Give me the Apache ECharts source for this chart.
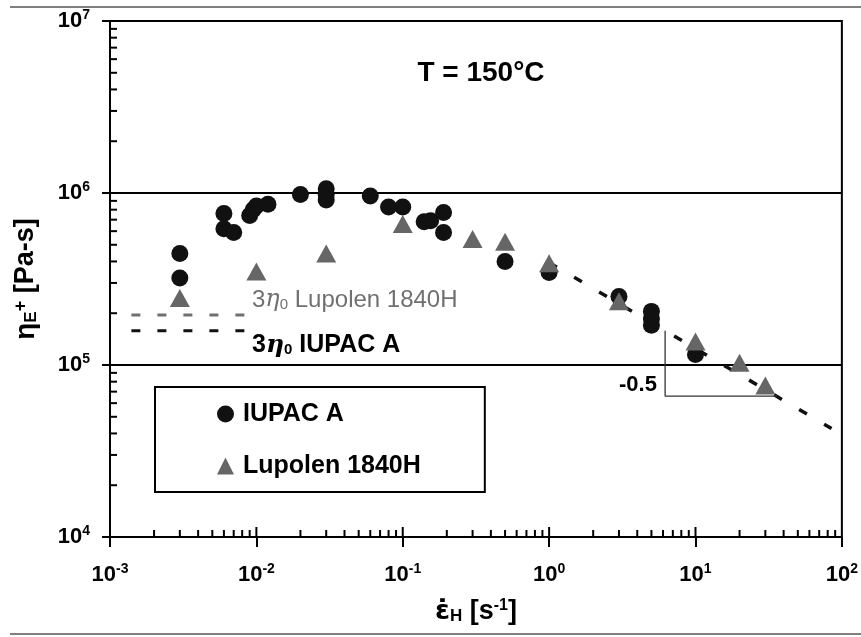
<!DOCTYPE html>
<html>
<head>
<meta charset="utf-8">
<script src="https://cdn.jsdelivr.net/npm/echarts@6/dist/echarts.min.js"></script>
<style>
  html, body { margin: 0; padding: 0; background: #fff; }
  #chart { width: 861px; height: 637px; }
</style>
</head>
<body>
<div id="chart"></div>
<script>
var iupacX = [0.003, 0.003, 0.006, 0.006, 0.007, 0.009, 0.0095, 0.01, 0.012, 0.02, 0.03, 0.03, 0.03, 0.06, 0.08, 0.1, 0.14, 0.155, 0.19, 0.19, 0.5, 1, 3, 5, 5, 5, 10];
var iupacY = [4.45e5, 3.2e5, 7.6e5, 6.2e5, 5.9e5, 7.4e5, 8.0e5, 8.4e5, 8.6e5, 9.8e5, 1.06e6, 0.98e6, 0.91e6, 9.6e5, 8.3e5, 8.3e5, 6.8e5, 6.9e5, 7.7e5, 5.9e5, 4.0e5, 3.45e5, 2.5e5, 2.05e5, 1.85e5, 1.7e5, 1.15e5];
var lupoX = [0.003, 0.01, 0.03, 0.1, 0.3, 0.5, 1, 3, 10, 20, 30];
var lupoY = [2.45e5, 3.5e5, 4.45e5, 6.6e5, 5.4e5, 5.2e5, 3.9e5, 2.35e5, 1.37e5, 1.03e5, 7.6e4];

// power law with slope -0.5 and its slope triangle
var fitX = [1, 85];
var fitY = [3.94e5, 4.27e4];
var slopeX = [6.2, 6.2, 36];
var slopeY = [1.58e5, 6.6e4, 6.6e4];

// 3*eta0 levels
var eta0X = [0.0014, 0.0087];
var eta0Lupo = 1.95e5;
var eta0Iupac = 1.58e5;

var xDecades = [-3, -2, -1, 0, 1];
var yDecades = [4, 5, 6];
var minorMult = [2, 3, 4, 5, 6, 7, 8, 9];

var FONT = 'Liberation Sans, Arial, sans-serif';

var pairs = function(xs, ys) {
  return xs.map(function(x, i) { return [x, ys[i]]; });
};

// inside ticks built from the log positions
var xMinor = [], yMinor = [], xMajorIn = [], yMajorIn = [];
xDecades.forEach(function(d) {
  minorMult.forEach(function(m) { xMinor.push([m * Math.pow(10, d), 1e4]); });
  if (d > -3) xMajorIn.push([Math.pow(10, d), 1e4]);
});
yDecades.forEach(function(d) {
  minorMult.forEach(function(m) { yMinor.push([1e-3, m * Math.pow(10, d)]); });
  if (d > 4) yMajorIn.push([1e-3, Math.pow(10, d)]);
});

var powLabel = function(v) {
  var e = Math.round(Math.log(v) / Math.LN10);
  return '{b|10}{s|' + e + '}';
};
var labelRich = {
  b: { fontSize: 22, fontWeight: 'bold', fontFamily: FONT, color: '#000', lineHeight: 26 },
  s: { fontSize: 14, fontWeight: 'bold', fontFamily: FONT, color: '#000', verticalAlign: 'top', lineHeight: 14 }
};

var tickSeries = function(data, size, offset) {
  return {
    type: 'scatter', data: data, symbol: 'rect', symbolSize: size, symbolOffset: offset,
    itemStyle: { color: '#000', opacity: 1 }, silent: true, z: 5, tooltip: { show: false }
  };
};

var chart = echarts.init(document.getElementById('chart'));

var option = {
  backgroundColor: '#fff',
  animation: false,
  grid: {
    left: 110, right: 14, top: 21, bottom: 100,
    show: true, borderColor: '#000', borderWidth: 2
  },
  legend: {
    orient: 'vertical', left: 155, top: 387,
    padding: [14, 64, 13, 62], itemGap: 26,
    itemWidth: 17, itemHeight: 17,
    borderColor: '#000', borderWidth: 2,
    textStyle: { fontSize: 25, lineHeight: 26, fontWeight: 'bold', color: '#000', fontFamily: FONT, padding: [0, 0, 0, 4] },
    data: [{ name: 'IUPAC A', icon: 'circle' }, { name: 'Lupolen 1840H', icon: 'triangle' }]
  },
  xAxis: {
    type: 'log', logBase: 10, min: 1e-3, max: 1e2,
    axisLine: { lineStyle: { color: '#000', width: 2 } },
    axisTick: { length: 10, lineStyle: { color: '#000', width: 2 } },
    axisLabel: { margin: 25, formatter: powLabel, rich: labelRich },
    splitLine: { show: false },
    name: '{e|ε̇}{sub|H}{t| [s}{sup|-1}{t|]}',
    nameLocation: 'middle', nameGap: 61,
    nameTextStyle: {
      rich: {
        e: { fontSize: 27, fontWeight: 'bold', fontFamily: 'DejaVu Sans', color: '#000' },
        t: { fontSize: 27, fontWeight: 'bold', fontFamily: FONT, color: '#000' },
        sub: { fontSize: 17, fontWeight: 'bold', fontFamily: FONT, color: '#000', verticalAlign: 'bottom' },
        sup: { fontSize: 16, fontWeight: 'bold', fontFamily: FONT, color: '#000', verticalAlign: 'top' }
      }
    }
  },
  yAxis: {
    type: 'log', logBase: 10, min: 1e4, max: 1e7,
    axisLine: { lineStyle: { color: '#000', width: 2 } },
    axisTick: { length: 8, lineStyle: { color: '#000', width: 2 } },
    axisLabel: { margin: 20, formatter: powLabel, rich: labelRich },
    splitLine: { show: true, lineStyle: { color: '#000', width: 2 } },
    name: '{g|η}{sub|E}{sup|+}{t| [Pa-s]}',
    nameLocation: 'middle', nameGap: 70, nameRotate: 90,
    nameTextStyle: {
      rich: {
        g: { fontSize: 28, fontWeight: 'bold', fontFamily: FONT, color: '#000' },
        t: { fontSize: 27, fontWeight: 'bold', fontFamily: FONT, color: '#000' },
        sub: { fontSize: 17, fontWeight: 'bold', fontFamily: FONT, color: '#000', verticalAlign: 'bottom' },
        sup: { fontSize: 18, fontWeight: 'bold', fontFamily: FONT, color: '#000', verticalAlign: 'top' }
      }
    }
  },
  series: [
    {
      name: 'fit', type: 'line', data: pairs(fitX, fitY), symbol: 'none', silent: true,
      lineStyle: { color: '#111', width: 3.5, type: [9, 20] }, z: 2
    },
    {
      name: 'slope', type: 'line', data: pairs(slopeX, slopeY), symbol: 'none', silent: true,
      lineStyle: { color: '#333', width: 1.3 }, z: 2
    },
    {
      name: 'eta0 Lupolen', type: 'line', data: pairs(eta0X, [eta0Lupo, eta0Lupo]), symbol: 'none', silent: true,
      lineStyle: { color: '#707070', width: 3, type: [9, 17] }, z: 2
    },
    {
      name: 'eta0 IUPAC', type: 'line', data: pairs(eta0X, [eta0Iupac, eta0Iupac]), symbol: 'none', silent: true,
      lineStyle: { color: '#111', width: 3, type: [9, 17] }, z: 2
    },
    {
      name: 'IUPAC A', type: 'scatter', data: pairs(iupacX, iupacY),
      symbol: 'circle', symbolSize: 17, itemStyle: { color: '#111', opacity: 1 }, z: 3
    },
    {
      name: 'Lupolen 1840H', type: 'scatter', data: pairs(lupoX, lupoY),
      symbol: 'triangle', symbolSize: [20, 18], itemStyle: { color: '#666', opacity: 1 }, z: 4
    },
    tickSeries(xMinor, [2, 7], [0, -3.5]),
    tickSeries(xMajorIn, [2, 10], [0, -5]),
    tickSeries(yMinor, [7, 2], [3.5, 0]),
    tickSeries(yMajorIn, [8, 2], [4, 0])
  ],
  graphic: [
    { type: 'line', shape: { x1: 10, y1: 7, x2: 861, y2: 7 }, style: { stroke: '#555', lineWidth: 1.5 } },
    { type: 'line', shape: { x1: 10, y1: 634, x2: 861, y2: 634 }, style: { stroke: '#555', lineWidth: 1.5 } },
    {
      type: 'text', x: 481, y: 73,
      style: { text: 'T = 150°C', align: 'center', verticalAlign: 'middle', fontSize: 28, fontWeight: 'bold', fontFamily: FONT, fill: '#000' }
    },
    {
      type: 'text', x: 638, y: 385,
      style: { text: '-0.5', align: 'center', verticalAlign: 'middle', fontSize: 22, fontWeight: 'bold', fontFamily: FONT, fill: '#000' }
    },
    {
      type: 'text', x: 252, y: 300,
      style: {
        text: '{n|3}{i|η}{sub|0}{n| Lupolen 1840H}', align: 'left', verticalAlign: 'middle',
        rich: {
          n: { fontSize: 24, fontFamily: FONT, fill: '#707070' },
          i: { fontSize: 24, fontStyle: 'italic', fontFamily: 'DejaVu Serif', fill: '#707070' },
          sub: { fontSize: 15, fontFamily: FONT, fill: '#707070', verticalAlign: 'bottom' }
        }
      }
    },
    {
      type: 'text', x: 252, y: 345,
      style: {
        text: '{n|3}{i|η}{sub|0}{n| IUPAC A}', align: 'left', verticalAlign: 'middle',
        rich: {
          n: { fontSize: 25, fontWeight: 'bold', fontFamily: FONT, fill: '#000' },
          i: { fontSize: 25, fontWeight: 'bold', fontStyle: 'italic', fontFamily: 'DejaVu Serif', fill: '#000' },
          sub: { fontSize: 15, fontWeight: 'bold', fontFamily: FONT, fill: '#000', verticalAlign: 'bottom' }
        }
      }
    }
  ]
};

chart.setOption(option);
</script>
</body>
</html>
